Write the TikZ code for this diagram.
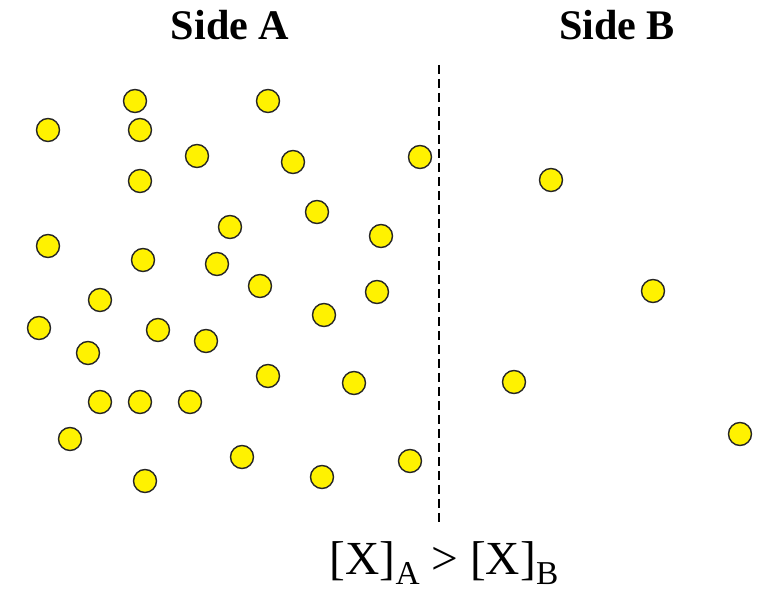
\documentclass[tikz,border=0pt]{standalone}
\usepackage{fontspec}
\setmainfont{Liberation Serif}
\usepackage{tikz}
\usetikzlibrary{calc, positioning}

\definecolor{dotyellow}{RGB}{255,242,0}
\tikzset{
    particle/.style={circle, draw=black!85, line width=0.8pt, fill=dotyellow,
        minimum size=0.46cm, inner sep=0pt},
    sidelabel/.style={font=\fontsize{24}{28}\selectfont\bfseries}
}

\begin{document}
\begin{tikzpicture}[x=0.02cm, y=-0.02cm]
    \useasboundingbox (0,0) rectangle (762,594);

    % Tiêu đề hai bên
    \node[sidelabel] (titleA) at (230,25) {Side A};
    \node[sidelabel] (titleB) at (617,25) {Side B};

    % Vách ngăn
    \coordinate (wallTop) at (439,65);
    \coordinate (wallBot) at (439,522);
    \draw[line width=1.2pt, dash pattern=on 0.18cm off 0.1cm] (wallTop) -- (wallBot);

    % Các hạt bên A
    \foreach \px/\py [count=\i] in {135/101, 268/101, 48/130, 140/130, 197/156,
        293/162, 420/157, 140/181, 317/212, 230/227, 381/236, 48/246, 143/260,
        217/264, 260/286, 377/292, 100/300, 39/328, 158/330, 206/341, 324/315,
        88/353, 268/376, 354/383, 100/402, 140/402, 190/402, 70/439, 242/457,
        410/461, 145/481, 322/477}
        \node[particle] (a\i) at (\px,\py) {};

    % Các hạt bên B
    \foreach \px/\py [count=\i] in {551/180, 653/291, 514/382, 740/434}
        \node[particle] (b\i) at (\px,\py) {};

    % Nồng độ
    \node[font=\fontsize{27}{30}\selectfont] (conc) at (444,563)
        {[X]\raisebox{-0.45ex}{\fontsize{19}{20}\selectfont A} > [X]\raisebox{-0.45ex}{\fontsize{19}{20}\selectfont B}};
\end{tikzpicture}
\end{document}
